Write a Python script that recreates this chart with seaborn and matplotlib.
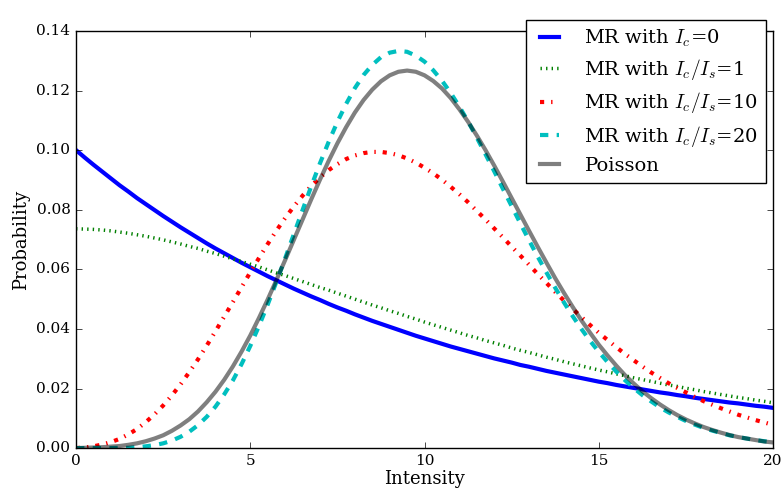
import numpy as np
import pandas as pd
import matplotlib
matplotlib.use("Agg")
import matplotlib.pyplot as plt
import seaborn as sns

# intensity grid (step 0.25)
intensity = [0.0, 0.25, 0.5, 0.75, 1.0, 1.25, 1.5, 1.75, 2.0, 2.25, 2.5, 2.75,
             3.0, 3.25, 3.5, 3.75, 4.0, 4.25, 4.5, 4.75, 5.0, 5.25, 5.5, 5.75,
             6.0, 6.25, 6.5, 6.75, 7.0, 7.25, 7.5, 7.75, 8.0, 8.25, 8.5, 8.75,
             9.0, 9.25, 9.5, 9.75, 10.0, 10.25, 10.5, 10.75, 11.0, 11.25, 11.5, 11.75,
             12.0, 12.25, 12.5, 12.75, 13.0, 13.25, 13.5, 13.75, 14.0, 14.25, 14.5, 14.75,
             15.0, 15.25, 15.5, 15.75, 16.0, 16.25, 16.5, 16.75, 17.0, 17.25, 17.5, 17.75,
             18.0, 18.25, 18.5, 18.75, 19.0, 19.25, 19.5, 19.75, 20.0]

mr_ic0 = [0.1000, 0.0975, 0.0951, 0.0928, 0.0905, 0.0882, 0.0861, 0.0839, 0.0819,
          0.0799, 0.0779, 0.0760, 0.0741, 0.0723, 0.0705, 0.0687, 0.0670, 0.0654,
          0.0638, 0.0622, 0.0607, 0.0592, 0.0577, 0.0563, 0.0549, 0.0535, 0.0522,
          0.0509, 0.0497, 0.0484, 0.0472, 0.0461, 0.0449, 0.0438, 0.0427, 0.0417,
          0.0407, 0.0397, 0.0387, 0.0377, 0.0368, 0.0359, 0.0350, 0.0341, 0.0333,
          0.0325, 0.0317, 0.0309, 0.0301, 0.0294, 0.0287, 0.0279, 0.0273, 0.0266,
          0.0259, 0.0253, 0.0247, 0.0241, 0.0235, 0.0229, 0.0223, 0.0218, 0.0212,
          0.0207, 0.0202, 0.0197, 0.0192, 0.0187, 0.0183, 0.0178, 0.0174, 0.0169,
          0.0165, 0.0161, 0.0157, 0.0153, 0.0150, 0.0146, 0.0142, 0.0139, 0.0135]
mr_r1 = [0.0736, 0.0735, 0.0734, 0.0732, 0.0729, 0.0725, 0.0721, 0.0716, 0.0711,
         0.0705, 0.0699, 0.0692, 0.0685, 0.0677, 0.0670, 0.0661, 0.0653, 0.0644,
         0.0635, 0.0626, 0.0617, 0.0608, 0.0598, 0.0588, 0.0579, 0.0569, 0.0559,
         0.0549, 0.0539, 0.0530, 0.0520, 0.0510, 0.0500, 0.0490, 0.0480, 0.0471,
         0.0461, 0.0452, 0.0442, 0.0433, 0.0423, 0.0414, 0.0405, 0.0396, 0.0387,
         0.0378, 0.0370, 0.0361, 0.0353, 0.0345, 0.0336, 0.0328, 0.0321, 0.0313,
         0.0305, 0.0298, 0.0290, 0.0283, 0.0276, 0.0269, 0.0262, 0.0256, 0.0249,
         0.0243, 0.0236, 0.0230, 0.0224, 0.0218, 0.0212, 0.0207, 0.0201, 0.0196,
         0.0190, 0.0185, 0.0180, 0.0175, 0.0170, 0.0166, 0.0161, 0.0157, 0.0152]
mr_r10 = [0.0000, 0.0002, 0.0006, 0.0012, 0.0020, 0.0031, 0.0046, 0.0064, 0.0087,
          0.0113, 0.0143, 0.0177, 0.0214, 0.0255, 0.0298, 0.0344, 0.0392, 0.0441,
          0.0490, 0.0540, 0.0590, 0.0638, 0.0685, 0.0730, 0.0772, 0.0811, 0.0847,
          0.0880, 0.0908, 0.0933, 0.0953, 0.0970, 0.0982, 0.0990, 0.0994, 0.0994,
          0.0990, 0.0983, 0.0972, 0.0958, 0.0941, 0.0922, 0.0901, 0.0877, 0.0852,
          0.0825, 0.0796, 0.0767, 0.0737, 0.0707, 0.0676, 0.0646, 0.0615, 0.0584,
          0.0554, 0.0524, 0.0495, 0.0467, 0.0440, 0.0413, 0.0387, 0.0363, 0.0339,
          0.0316, 0.0295, 0.0274, 0.0254, 0.0236, 0.0218, 0.0202, 0.0187, 0.0172,
          0.0158, 0.0146, 0.0134, 0.0123, 0.0112, 0.0103, 0.0094, 0.0086, 0.0078]
mr_r20 = [0.0000, 0.0000, 0.0000, 0.0000, 0.0000, 0.0001, 0.0001, 0.0003, 0.0006,
          0.0010, 0.0016, 0.0025, 0.0038, 0.0055, 0.0077, 0.0105, 0.0139, 0.0180,
          0.0227, 0.0282, 0.0343, 0.0410, 0.0482, 0.0558, 0.0637, 0.0718, 0.0799,
          0.0879, 0.0956, 0.1028, 0.1095, 0.1155, 0.1208, 0.1252, 0.1286, 0.1312,
          0.1327, 0.1333, 0.1330, 0.1317, 0.1297, 0.1268, 0.1233, 0.1192, 0.1146,
          0.1096, 0.1042, 0.0986, 0.0929, 0.0870, 0.0812, 0.0754, 0.0697, 0.0642,
          0.0589, 0.0538, 0.0489, 0.0443, 0.0400, 0.0360, 0.0323, 0.0289, 0.0257,
          0.0228, 0.0202, 0.0178, 0.0157, 0.0137, 0.0120, 0.0105, 0.0091, 0.0079,
          0.0068, 0.0059, 0.0051, 0.0043, 0.0037, 0.0032, 0.0027, 0.0023, 0.0020]
poisson = [0.0000, 0.0001, 0.0002, 0.0003, 0.0005, 0.0007, 0.0011, 0.0016, 0.0023,
           0.0032, 0.0043, 0.0058, 0.0076, 0.0097, 0.0123, 0.0154, 0.0189, 0.0229,
           0.0274, 0.0324, 0.0378, 0.0437, 0.0499, 0.0564, 0.0631, 0.0699, 0.0767,
           0.0835, 0.0901, 0.0964, 0.1023, 0.1077, 0.1126, 0.1168, 0.1203, 0.1231,
           0.1251, 0.1263, 0.1267, 0.1263, 0.1251, 0.1232, 0.1207, 0.1175, 0.1137,
           0.1095, 0.1049, 0.1000, 0.0948, 0.0894, 0.0839, 0.0784, 0.0729, 0.0675,
           0.0622, 0.0570, 0.0521, 0.0474, 0.0429, 0.0387, 0.0347, 0.0311, 0.0277,
           0.0245, 0.0217, 0.0191, 0.0168, 0.0147, 0.0128, 0.0111, 0.0096, 0.0083,
           0.0071, 0.0061, 0.0052, 0.0044, 0.0037, 0.0032, 0.0027, 0.0022, 0.0019]

labels = [r"MR with $I_c$=0", r"MR with $I_c/I_s$=1", r"MR with $I_c/I_s$=10",
          r"MR with $I_c/I_s$=20", "Poisson"]

plt.style.use("classic")
plt.rcParams["font.family"] = "DejaVu Serif"
plt.rcParams["mathtext.fontset"] = "cm"

fig, ax = plt.subplots(figsize=(7.84, 4.99), dpi=100)
fig.patch.set_facecolor("white")
fig.subplots_adjust(left=0.097, right=0.986, top=0.938, bottom=0.102)

series = [mr_ic0, mr_r1, mr_r10, mr_r20, poisson]
styles = [
    dict(color="b", linestyle="-", linewidth=3),
    dict(color="g", linestyle=":", linewidth=2.5),
    dict(color="r", linestyle="-.", linewidth=3),
    dict(color="c", linestyle="--", linewidth=3),
    dict(color="k", linestyle="-", linewidth=3, alpha=0.5),
]
for vals, lab, st in zip(series, labels, styles):
    df = pd.DataFrame({"Intensity": intensity, "Probability": vals})
    sns.lineplot(data=df, x="Intensity", y="Probability", label=lab, ax=ax, **st)

ax.set_xlim(0, 20)
ax.set_ylim(0, 0.14)
ax.set_xticks([0, 5, 10, 15, 20])
ax.set_yticks(np.arange(0, 0.141, 0.02))
ax.yaxis.set_major_formatter(matplotlib.ticker.FormatStrFormatter("%.2f"))
ax.set_xlabel("Intensity", fontsize=13, labelpad=2)
ax.set_ylabel("Probability", fontsize=13)
ax.tick_params(labelsize=11)
ax.legend(loc="upper right", fontsize=14, handlelength=1.6, handletextpad=1.0,
          labelspacing=0.42,
          bbox_to_anchor=(766 / 784, 1 - 20 / 499), bbox_transform=fig.transFigure,
          borderaxespad=0)

fig.savefig("out.png", dpi=100, facecolor="white")
